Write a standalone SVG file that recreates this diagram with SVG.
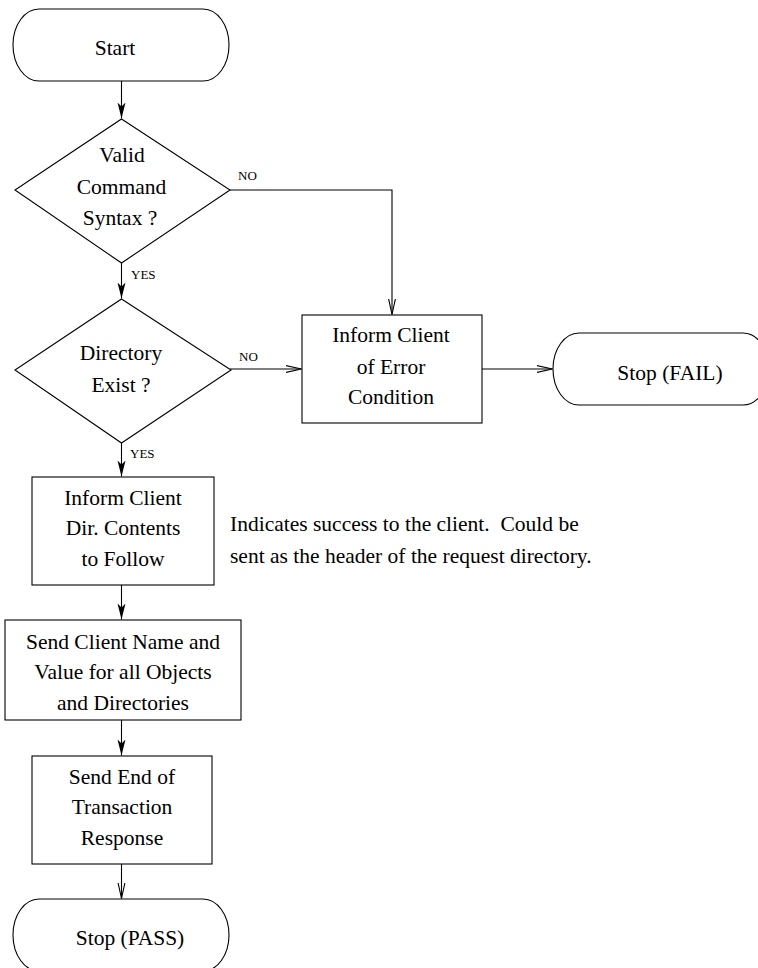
<svg xmlns="http://www.w3.org/2000/svg" width="758" height="968" viewBox="0 0 758 968">
  <style>
    .shape { fill: #ffffff; stroke: #000000; stroke-width: 1.1; }
    .edge { fill: none; stroke: #000000; stroke-width: 1.1; }
    text { font-family: 'Liberation Serif', 'Times New Roman', 'DejaVu Serif', serif; fill: #000000; }
    .t { font-size: 21.5px; text-anchor: middle; }
    .note { font-size: 21.5px; white-space: pre; }
    .lbl { font-size: 13px; }
  </style>
  <defs>
    <!-- filled stealth-style head -->
    <marker id="solid" markerUnits="userSpaceOnUse" markerWidth="20" markerHeight="12" refX="16" refY="5" orient="auto">
      <path d="M0,1 L16,5 L0,9 L4,5 Z" fill="#000000"/>
    </marker>
    <!-- open V head -->
    <marker id="open" markerUnits="userSpaceOnUse" markerWidth="20" markerHeight="12" refX="16" refY="5" orient="auto">
      <path d="M0,1.5 L16,5 L0,8.5" fill="none" stroke="#000000" stroke-width="1.1"/>
    </marker>
  </defs>

  <rect width="758" height="968" fill="#ffffff"/>

  <g id="connectors">
    <line class="edge" x1="121.5" y1="81" x2="121.5" y2="118.5" marker-end="url(#solid)"/>
    <polyline class="edge" points="230,190 392,190 392,314.5" marker-end="url(#open)"/>
    <line class="edge" x1="121.5" y1="263" x2="121.5" y2="298.5" marker-end="url(#solid)"/>
    <line class="edge" x1="230" y1="369" x2="301.5" y2="369" marker-end="url(#open)"/>
    <line class="edge" x1="482" y1="369" x2="552.5" y2="369" marker-end="url(#open)"/>
    <line class="edge" x1="121.5" y1="443" x2="121.5" y2="476.5" marker-end="url(#solid)"/>
    <line class="edge" x1="121.5" y1="585" x2="121.5" y2="619.5" marker-end="url(#solid)"/>
    <line class="edge" x1="121.5" y1="720" x2="121.5" y2="755.5" marker-end="url(#solid)"/>
    <line class="edge" x1="121.5" y1="864" x2="121.5" y2="898.5" marker-end="url(#open)"/>
    <text class="lbl" x="238" y="180" font-family="Liberation Serif, serif">NO</text>
    <text class="lbl" x="131" y="279" font-family="Liberation Serif, serif">YES</text>
    <text class="lbl" x="239" y="361" font-family="Liberation Serif, serif">NO</text>
    <text class="lbl" x="130" y="458" font-family="Liberation Serif, serif">YES</text>
  </g>

  <g id="start">
    <rect class="shape" x="13" y="9" width="216" height="72" rx="26" ry="36"/>
    <text class="t" x="115" y="54.5">Start</text>
  </g>

  <g id="valid-syntax">
    <polygon class="shape" points="121.5,119 230,190 121.5,263 15,190"/>
    <text class="t" x="122" y="162">Valid</text>
    <text class="t" x="121.5" y="194">Command</text>
    <text class="t" x="120" y="225">Syntax ?</text>
  </g>

  <g id="dir-exist">
    <polygon class="shape" points="121.5,299 231,370 121.5,443 15,370"/>
    <text class="t" x="121" y="360">Directory</text>
    <text class="t" x="121" y="392">Exist ?</text>
  </g>

  <g id="inform-error">
    <rect class="shape" x="302" y="315" width="180" height="108"/>
    <text class="t" x="391" y="342">Inform Client</text>
    <text class="t" x="391" y="374">of Error</text>
    <text class="t" x="391" y="404">Condition</text>
  </g>

  <g id="stop-fail">
    <rect class="shape" x="553" y="333" width="216" height="72" rx="26" ry="36"/>
    <text class="t" x="670" y="380">Stop (FAIL)</text>
  </g>

  <g id="inform-contents">
    <rect class="shape" x="32" y="477" width="182" height="108"/>
    <text class="t" x="123" y="505">Inform Client</text>
    <text class="t" x="123" y="535">Dir. Contents</text>
    <text class="t" x="123" y="566">to Follow</text>
  </g>

  <g id="note">
    <text class="note" x="230" y="531" xml:space="preserve">Indicates success to the client.  Could be</text>
    <text class="note" x="230" y="563">sent as the header of the request directory.</text>
  </g>

  <g id="send-names">
    <rect class="shape" x="5" y="620" width="236" height="100"/>
    <text class="t" x="123" y="649">Send Client Name and</text>
    <text class="t" x="123" y="679">Value for all Objects</text>
    <text class="t" x="123" y="710">and Directories</text>
  </g>

  <g id="send-end">
    <rect class="shape" x="32" y="756" width="180" height="108"/>
    <text class="t" x="122" y="784">Send End of</text>
    <text class="t" x="122" y="814">Transaction</text>
    <text class="t" x="122" y="845">Response</text>
  </g>

  <g id="stop-pass">
    <rect class="shape" x="13" y="899" width="216" height="72" rx="26" ry="36"/>
    <text class="t" x="130" y="945">Stop (PASS)</text>
  </g>
</svg>
